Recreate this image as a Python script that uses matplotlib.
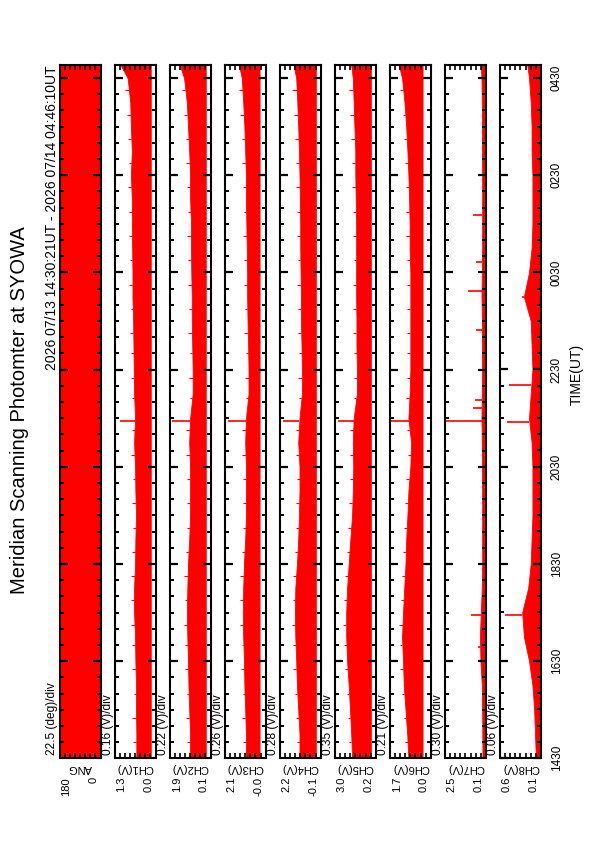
import matplotlib
matplotlib.use("Agg")
import matplotlib.pyplot as plt
import numpy as np
from matplotlib.ticker import FixedLocator, NullFormatter

plt.rcParams["font.family"] = ["Liberation Sans", "DejaVu Sans"]
RED = "#FF0000"
W, H = 595, 842

T_START, T_END = "14:30:21", "04:46:10"
TIMES = ["14:30", "15:00", "15:30", "16:00", "16:30", "17:00", "17:30", "18:00",
         "18:30", "19:00", "19:30", "20:00", "20:30", "21:00", "21:30", "22:00",
         "22:30", "23:00", "23:30", "00:00", "00:30", "01:00", "01:30", "02:00",
         "02:30", "03:00", "03:30", "04:00", "04:30", "04:46"]

NAMES = ["ANG", "CH1(V)", "CH2(V)", "CH3(V)", "CH4(V)", "CH5(V)", "CH6(V)", "CH7(V)", "CH8(V)"]
SCALES = ["22.5 (deg)/div", "0.16 (V)/div", "0.22 (V)/div", "0.26 (V)/div", "0.28 (V)/div",
          "0.35 (V)/div", "0.21 (V)/div", "0.30 (V)/div", "0.06 (V)/div"]
VMIN = [0.0, 0.0, 0.1, -0.02, -0.06, 0.2, 0.0, 0.1, 0.1]
VDIV = [22.5, 0.16, 0.22, 0.26, 0.28, 0.35, 0.21, 0.30, 0.06]
TOP_LBL = ["180", "1.3", "1.9", "2.1", "2.2", "3.0", "1.7", "2.5", "0.6"]
BOT_LBL = ["0", "0.0", "0.1", "-0.0", "-0.1", "0.2", "0.0", "0.1", "0.1"]

# lower / upper envelope of the scanning signal at TIMES
ANG_LO = [0.0] * 30
ANG_HI = [180.0] * 30
CH1_LO = [0.15] * 30
CH1_HI = [0.60, 0.60, 0.61, 0.61, 0.63, 0.64, 0.67, 0.67, 0.64, 0.63, 0.61, 0.63, 0.64, 0.67, 0.64,
          0.67, 0.68, 0.69, 0.70, 0.72, 0.72, 0.73, 0.74, 0.74, 0.77, 0.74, 0.77, 0.79, 0.87, 1.09]
CH2_LO = [0.31] * 30
CH2_HI = [0.98, 0.98, 1.02, 1.05, 1.07, 1.10, 1.12, 1.10, 1.07, 1.02, 0.98, 0.98, 0.98, 1.02, 0.98,
          0.87, 0.87, 0.89, 0.91, 0.91, 0.93, 0.94, 0.94, 0.98, 0.98, 1.02, 1.07, 1.12, 1.24, 1.42]
CH3_LO = [0.29] * 30
CH3_HI = [0.98, 0.98, 1.02, 1.06, 1.08, 1.12, 1.14, 1.12, 1.08, 1.02, 0.98, 0.98, 0.98, 1.02, 0.98,
          0.85, 0.85, 0.87, 0.90, 0.92, 0.92, 0.94, 0.96, 0.98, 0.98, 1.02, 1.06, 1.12, 1.19, 1.33]
CH4_LO = [0.21] * 30
CH4_HI = [1.10, 1.10, 1.17, 1.24, 1.28, 1.33, 1.35, 1.33, 1.24, 1.17, 1.13, 1.10, 1.10, 1.17, 1.10,
          0.97, 0.97, 0.99, 1.02, 1.02, 1.04, 1.06, 1.06, 1.08, 1.10, 1.13, 1.17, 1.22, 1.28, 1.42]
CH5_LO = [0.54] * 30
CH5_HI = [1.82, 1.88, 1.96, 2.05, 2.16, 2.22, 2.22, 2.16, 2.05, 1.94, 1.82, 1.77, 1.74, 1.77, 1.71,
          1.49, 1.49, 1.52, 1.52, 1.54, 1.54, 1.54, 1.54, 1.57, 1.60, 1.60, 1.66, 1.71, 1.77, 1.88]
CH6_LO = [0.34] * 30
CH6_HI = [0.92, 0.97, 1.04, 1.11, 1.14, 1.18, 1.14, 1.09, 1.04, 1.01, 0.96, 0.92, 0.84, 0.81, 0.92,
          0.87, 0.84, 0.84, 0.84, 0.84, 0.84, 0.87, 0.87, 0.89, 0.92, 0.96, 1.01, 1.08, 1.18, 1.31]
CH7_LO = [0.18] * 30
CH7_HI = [0.30, 0.31, 0.32, 0.34, 0.42, 0.45, 0.40, 0.34, 0.32, 0.32, 0.32, 0.32, 0.33, 0.34, 0.36,
          0.34, 0.33, 0.33, 0.33, 0.36, 0.34, 0.32, 0.32, 0.32, 0.32, 0.33, 0.33, 0.34, 0.36, 0.40]
CH8_LO = [0.11] * 30
CH8_HI = [0.16, 0.17, 0.18, 0.20, 0.24, 0.30, 0.32, 0.25, 0.22, 0.21, 0.20, 0.20, 0.20, 0.21, 0.24,
          0.22, 0.20, 0.21, 0.22, 0.30, 0.24, 0.21, 0.20, 0.20, 0.20, 0.21, 0.21, 0.22, 0.24, 0.26]

# short excursions on the upper edge of the bands
HAIR_T = ["14:50", "15:20", "15:50", "16:20", "16:50", "17:15", "17:45", "18:15", "18:45", "19:15",
          "19:45", "20:15", "20:45", "21:15", "21:55", "22:20", "22:50", "23:15", "23:45", "00:15",
          "00:45", "01:15", "01:45", "02:15", "02:45", "03:15", "03:45", "04:15"]
CH1_HAIR = [0.70, 0.72, 0.68, 0.74, 0.73, 0.78, 0.76, 0.77, 0.72, 0.70, 0.73, 0.71, 0.76, 0.75,
            0.74, 0.78, 0.76, 0.80, 0.78, 0.83, 0.80, 0.84, 0.82, 0.86, 0.84, 0.86, 0.88, 0.96]
CH2_HAIR = [1.10, 1.14, 1.12, 1.20, 1.18, 1.26, 1.22, 1.24, 1.16, 1.12, 1.12, 1.10, 1.14, 1.16,
            1.00, 1.02, 1.00, 1.06, 1.03, 1.08, 1.05, 1.10, 1.08, 1.12, 1.14, 1.16, 1.24, 1.32]
CH3_HAIR = [1.12, 1.16, 1.14, 1.22, 1.20, 1.30, 1.26, 1.28, 1.18, 1.14, 1.14, 1.12, 1.16, 1.16,
            1.00, 1.02, 1.00, 1.08, 1.05, 1.10, 1.06, 1.12, 1.10, 1.14, 1.16, 1.18, 1.26, 1.34]
CH4_HAIR = [1.24, 1.30, 1.34, 1.44, 1.45, 1.52, 1.48, 1.46, 1.34, 1.30, 1.28, 1.24, 1.30, 1.30,
            1.12, 1.16, 1.14, 1.20, 1.18, 1.22, 1.20, 1.24, 1.24, 1.28, 1.30, 1.36, 1.42, 1.52]
CH5_HAIR = [2.02, 2.12, 2.16, 2.32, 2.36, 2.46, 2.40, 2.32, 2.18, 2.08, 2.00, 1.94, 1.98, 1.94,
            1.70, 1.72, 1.70, 1.76, 1.74, 1.76, 1.72, 1.78, 1.78, 1.82, 1.82, 1.88, 1.96, 2.04]
CH6_HAIR = [1.06, 1.12, 1.18, 1.26, 1.28, 1.30, 1.24, 1.18, 1.14, 1.10, 1.06, 1.00, 0.94, 0.98,
            1.00, 0.98, 0.96, 0.98, 0.96, 0.98, 0.98, 1.00, 1.00, 1.02, 1.06, 1.10, 1.16, 1.26]

# isolated excursions (time, value)
CH1_SPK = [("21:27", 1.11)]
CH2_SPK = [("21:27", 1.77)]
CH3_SPK = [("21:27", 1.91)]
CH4_SPK = [("21:27", 2.02)]
CH5_SPK = [("21:27", 2.80)]
CH6_SPK = [("21:27", 1.68)]
CH7_SPK = [("21:27", 2.50), ("00:07", 1.12), ("17:27", 1.00), ("16:47", 0.58), ("21:43", 0.88),
           ("21:52", 0.75), ("23:19", 0.70), ("00:43", 0.70), ("01:41", 0.88)]
CH8_SPK = [("17:27", 0.52), ("21:25", 0.50), ("22:11", 0.48), ("00:00", 0.32)]

LO = [ANG_LO, CH1_LO, CH2_LO, CH3_LO, CH4_LO, CH5_LO, CH6_LO, CH7_LO, CH8_LO]
HI = [ANG_HI, CH1_HI, CH2_HI, CH3_HI, CH4_HI, CH5_HI, CH6_HI, CH7_HI, CH8_HI]
HAIR = [None, CH1_HAIR, CH2_HAIR, CH3_HAIR, CH4_HAIR, CH5_HAIR, CH6_HAIR, None, None]
SPK = [[], CH1_SPK, CH2_SPK, CH3_SPK, CH4_SPK, CH5_SPK, CH6_SPK, CH7_SPK, CH8_SPK]


def hours(s):
    p = [int(v) for v in s.split(":")] + [0]
    h = p[0] + p[1] / 60 + p[2] / 3600
    return h + 24 if h < 12 else h


t = np.array([hours(s) for s in TIMES])
th = np.array([hours(s) for s in HAIR_T])
t0, t1 = hours(T_START), hours(T_END)
major = [14.5 + 2 * k for k in range(8)]
minor = [14.5 + k / 3 for k in range(43)]
tlabels = [f"{int(m) % 24:02d}30" for m in major]

fig = plt.figure(figsize=(W / 100, H / 100), dpi=100)
top_px, bot_px = 65, 758
for i in range(9):
    left = 59.5 + 55.06 * i
    ax = fig.add_axes([left / W, 1 - bot_px / H, 41 / W, (bot_px - top_px) / H])
    vmin = VMIN[i]; vmax = vmin + 8 * VDIV[i]
    ax.fill_betweenx(t, LO[i], HI[i], color=RED, lw=0.6, ec=RED)
    if HAIR[i] is not None:
        ax.hlines(th, np.interp(th, t, HI[i]), HAIR[i], color=RED, lw=0.8)
    if SPK[i]:
        st = np.array([hours(s) for s, _ in SPK[i]])
        sv = [v for _, v in SPK[i]]
        ax.hlines(st, np.interp(st, t, HI[i]), sv, color=RED, lw=1.2)
    ax.set_xlim(vmax, vmin)
    ax.set_ylim(t0, t1)
    ax.xaxis.set_major_locator(FixedLocator([vmin + k * VDIV[i] for k in range(1, 8)]))
    ax.xaxis.set_major_formatter(NullFormatter())
    ax.tick_params(axis="x", which="both", direction="in", top=True, bottom=True,
                   length=3.5, width=1.2)
    ax.yaxis.set_major_locator(FixedLocator(major))
    ax.yaxis.set_minor_locator(FixedLocator(minor))
    ax.tick_params(axis="y", which="major", direction="in", left=True, right=True,
                   length=6, width=1.6)
    ax.tick_params(axis="y", which="minor", direction="in", left=True, right=True,
                   length=3.2, width=1.4)
    ax.yaxis.set_major_formatter(NullFormatter())
    for sp in ax.spines.values():
        sp.set_linewidth(1.5)
    if i == 8:
        ax.tick_params(axis="y", which="major", labelright=True, labelleft=False,
                       labelsize=8.5, labelrotation=90, pad=7)
        ax.set_yticks(major)
        ax.set_yticklabels(tlabels, va="center")

    cx = left + 20.5
    fig.text((left - 7) / W, 1 - 755 / H, SCALES[i], rotation=90, ha="center", va="bottom",
             fontsize=8.6)
    fig.text(cx / W, 1 - 768 / H, NAMES[i], rotation=180, ha="center", va="center", fontsize=8)
    fig.text((left + 7) / W, 1 - 777 / H, TOP_LBL[i], rotation=90, ha="center", va="top",
             fontsize=8)
    fig.text((left + 34) / W, 1 - 777 / H, BOT_LBL[i], rotation=90, ha="center", va="top",
             fontsize=8)

fig.text(20 / W, 1 - 410 / H, "Meridian Scanning Photomter at SYOWA", rotation=90,
         ha="center", va="center", fontsize=14.5)
fig.text(52 / W, 1 - 65 / H, "2026 07/13 14:30:21UT - 2026 07/14 04:46:10UT", rotation=90,
         ha="center", va="top", fontsize=10)
fig.text(577 / W, 1 - 374 / H, "TIME(UT)", rotation=90, ha="center", va="center", fontsize=10)

fig.savefig("out.png", dpi=100)
